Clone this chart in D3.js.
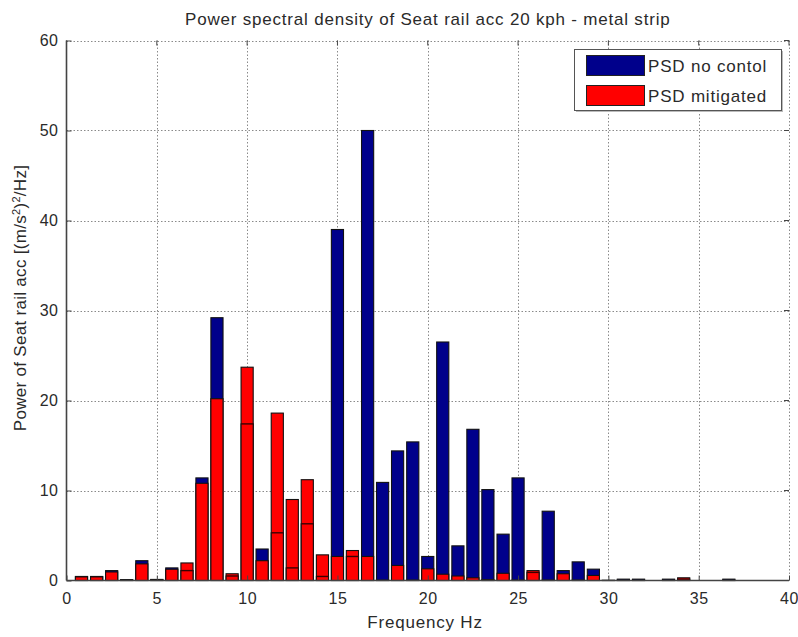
<!DOCTYPE html>
<html>
<head>
<meta charset="utf-8">
<script src="https://cdn.jsdelivr.net/npm/d3@7/dist/d3.min.js"></script>
<style>
  html, body { margin: 0; padding: 0; background: #fff; }
  svg { display: block; }
  text { font-family: "Liberation Sans", Arial, sans-serif; fill: #2a2a2a; }
</style>
</head>
<body>
<svg id="chart" width="798" height="637"></svg>
<script>
// Frequency bins of the spectrum (Hz)
const binHz = [0.83, 1.67, 2.5, 3.33, 4.17, 5.0, 5.83, 6.67, 7.5, 8.33,
  9.17, 10.0, 10.83, 11.67, 12.5, 13.33, 14.17, 15.0, 15.83, 16.67,
  17.5, 18.33, 19.17, 20.0, 20.83, 21.67, 22.5, 23.33, 24.17, 25.0,
  25.83, 26.67, 27.5, 28.33, 29.17, 30.0, 30.83, 31.67, 32.5, 33.33,
  34.17, 35.0, 35.83, 36.67];

// PSD without control [(m/s^2)^2/Hz]
const psdNoControl = [0.45, 0.45, 1.1, 0.1, 2.2, 0.12, 1.4, 1.1, 11.4, 29.2,
  0.5, 17.4, 3.5, 5.3, 1.4, 6.3, 0.45, 39.0, 2.67, 50.0,
  10.9, 14.4, 15.4, 2.67, 26.5, 3.85, 16.8, 10.1, 5.15, 11.4,
  0.9, 7.7, 1.1, 2.07, 1.26, 0.02, 0.15, 0.15, 0, 0.15,
  0.15, 0, 0, 0.15];

// PSD with mitigation [(m/s^2)^2/Hz]
const psdMitigated = [0.4, 0.4, 0.95, 0.05, 1.85, 0.1, 1.25, 1.95, 10.8, 20.2,
  0.75, 23.7, 2.2, 18.6, 9.0, 11.2, 2.85, 2.67, 3.33, 2.67,
  0.05, 1.67, 0.05, 1.3, 0.7, 0.5, 0.3, 0.1, 0.8, 0.05,
  1.1, 0.05, 0.75, 0.05, 0.56, 0.01, 0.05, 0.05, 0, 0.05,
  0.3, 0, 0, 0.05];

const xTicks = [0, 5, 10, 15, 20, 25, 30, 35, 40];
const yTicks = [0, 10, 20, 30, 40, 50, 60];
const seriesNames = ["PSD no contol", "PSD mitigated"];
const seriesColors = ["#00008b", "#ff0000"];

const titleText = "Power spectral density of Seat rail acc 20 kph - metal strip";
const xLabelText = "Frequency Hz";

const svg = d3.select("#chart");
const plotL = 66.5, plotR = 789, plotT = 40.5, plotB = 580.5;

const x = d3.scaleLinear().domain([0, 40]).range([plotL, plotR]);
const y = d3.scaleLinear().domain([0, 60]).range([plotB, plotT]);

const binWidth = binHz[1] - binHz[0];
const barW = x(0.8 * binWidth) - x(0);

// grid
const grid = svg.append("g").attr("stroke", "#8a8a8a").attr("stroke-width", 1)
  .attr("stroke-dasharray", "1.5,2").attr("fill", "none");
grid.selectAll("line.vx").data(xTicks.filter(d => d > 0)).join("line")
  .attr("x1", d => Math.round(x(d)) + 0.5).attr("x2", d => Math.round(x(d)) + 0.5)
  .attr("y1", plotT).attr("y2", plotB);
grid.selectAll("line.hy").data(yTicks.filter(d => d > 0)).join("line")
  .attr("y1", d => Math.round(y(d)) + 0.5).attr("y2", d => Math.round(y(d)) + 0.5)
  .attr("x1", plotL).attr("x2", plotR);

// bars
const rows = binHz.map((f, i) => ({ f, a: psdNoControl[i], b: psdMitigated[i] }));
const bars = svg.append("g");
bars.selectAll("rect.nc").data(rows).join("rect")
  .attr("x", d => x(d.f) - barW / 2).attr("width", barW)
  .attr("y", d => y(d.a)).attr("height", d => y(0) - y(d.a))
  .attr("fill", seriesColors[0]).attr("stroke", "#111").attr("stroke-width", 1.1);
bars.selectAll("rect.mi").data(rows).join("rect")
  .attr("x", d => x(d.f) - barW / 2).attr("width", barW)
  .attr("y", d => y(d.b)).attr("height", d => y(0) - y(d.b))
  .attr("fill", seriesColors[1]).attr("stroke", "#111").attr("stroke-width", 1.1);
// outline of the uncontrolled bars stays visible through the mitigated ones
bars.selectAll("line.edge").data(rows.filter(d => d.a < d.b)).join("line")
  .attr("x1", d => x(d.f) - barW / 2).attr("x2", d => x(d.f) + barW / 2)
  .attr("y1", d => y(d.a)).attr("y2", d => y(d.a))
  .attr("stroke", "#3a0000").attr("stroke-width", 1.4);

// axes
const axisCol = "#444";
svg.append("line").attr("x1", plotL).attr("x2", plotL).attr("y1", plotT).attr("y2", plotB)
  .attr("stroke", axisCol).attr("stroke-width", 1.6);
svg.append("line").attr("x1", plotL).attr("x2", plotR).attr("y1", plotB).attr("y2", plotB)
  .attr("stroke", axisCol).attr("stroke-width", 1.6);

const xAxis = svg.append("g").attr("transform", `translate(0,${plotB})`)
  .call(d3.axisBottom(x).tickValues(xTicks).tickSize(-5).tickPadding(12).tickFormat(d3.format("d")));
const yAxis = svg.append("g").attr("transform", `translate(${plotL},0)`)
  .call(d3.axisLeft(y).tickValues(yTicks).tickSize(-5).tickPadding(8).tickFormat(d3.format("d")));
[xAxis, yAxis].forEach(g => {
  g.select(".domain").remove();
  g.selectAll(".tick line").attr("stroke", axisCol);
  g.selectAll(".tick text").attr("font-size", 16).attr("letter-spacing", 0.5)
    .attr("fill", "#2a2a2a").style("font-family", "'Liberation Sans', Arial, sans-serif");
});
// tick marks along top and right edges
svg.append("g").selectAll("line").data(xTicks).join("line")
  .attr("x1", d => x(d)).attr("x2", d => x(d)).attr("y1", plotT).attr("y2", plotT + 5)
  .attr("stroke", axisCol);
svg.append("g").selectAll("line").data(yTicks).join("line")
  .attr("y1", d => y(d)).attr("y2", d => y(d)).attr("x1", plotR).attr("x2", plotR - 5)
  .attr("stroke", axisCol);

// title and labels
svg.append("text").attr("x", (plotL + plotR) / 2).attr("y", 24.5)
  .attr("text-anchor", "middle").attr("font-size", 17).attr("letter-spacing", 0.8)
  .text(titleText);
svg.append("text").attr("x", 425).attr("y", 628)
  .attr("text-anchor", "middle").attr("font-size", 17).attr("letter-spacing", 0.8)
  .text(xLabelText);
const yl = svg.append("text").attr("transform", "translate(26,298) rotate(-90)")
  .attr("text-anchor", "middle").attr("font-size", 17).attr("letter-spacing", 0.3);
yl.append("tspan").text("Power of Seat rail acc [(m/s");
yl.append("tspan").attr("font-size", 11).attr("dy", -6).text("2");
yl.append("tspan").attr("dy", 6).text(")");
yl.append("tspan").attr("font-size", 11).attr("dy", -6).text("2");
yl.append("tspan").attr("dy", 6).text("/Hz]");

// legend
const lg = svg.append("g");
lg.append("rect").attr("x", 576).attr("y", 51).attr("width", 207).attr("height", 61)
  .attr("fill", "#bbb");
lg.append("rect").attr("x", 574.5).attr("y", 49.5).attr("width", 207).attr("height", 61)
  .attr("fill", "#fff").attr("stroke", "#555").attr("stroke-width", 1);
seriesNames.forEach((name, i) => {
  lg.append("rect").attr("x", 586.5).attr("y", 55.5 + i * 30).attr("width", 58).attr("height", 20)
    .attr("fill", seriesColors[i]).attr("stroke", "#222").attr("stroke-width", 1);
  lg.append("text").attr("x", 648).attr("y", 72 + i * 30)
    .attr("font-size", 17).attr("letter-spacing", 0.8).text(name);
});
</script>
</body>
</html>
